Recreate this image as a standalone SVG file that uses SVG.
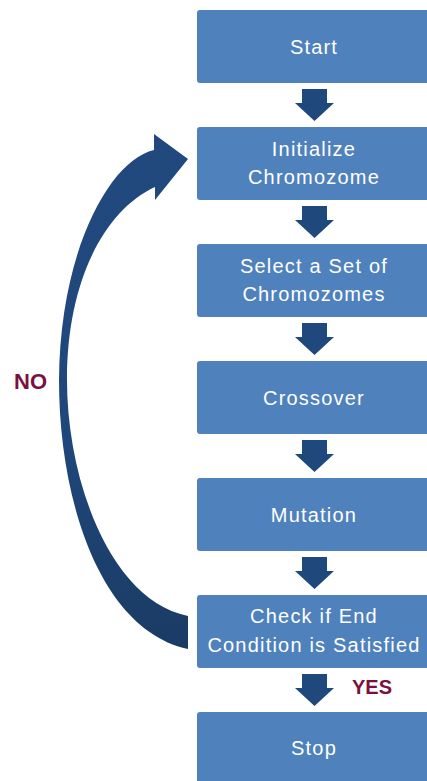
<svg xmlns="http://www.w3.org/2000/svg" width="427" height="781" viewBox="0 0 427 781">
<style>
.box{fill:#4F81BD;}
.t{font-family:"Liberation Sans",Arial,sans-serif;font-size:20px;fill:#FFFFFF;text-anchor:middle;letter-spacing:1.2px;}
.lbl{font-family:"Liberation Sans",Arial,sans-serif;font-weight:bold;fill:#7B1040;}
.arr{fill:#1F497D;}
</style>
<defs>
<linearGradient id="g" x1="0" y1="0" x2="0" y2="1">
<stop offset="0" stop-color="#21497E"/>
<stop offset="0.6" stop-color="#1F477B"/>
<stop offset="1" stop-color="#1A3B64"/>
</linearGradient>
<path id="down" d="M0,0 H25 V14 H32 L12.5,32 L-7,14 H0 Z"/>
</defs>
<rect width="427" height="781" fill="#FFFFFF"/>
<g id="connectors">
<use href="#down" class="arr" x="302" y="89"/>
<use href="#down" class="arr" x="302" y="206"/>
<use href="#down" class="arr" x="302" y="323"/>
<use href="#down" class="arr" x="302" y="440"/>
<use href="#down" class="arr" x="302" y="557"/>
<use href="#down" class="arr" x="302" y="674"/>
<path fill="url(#g)" d="M154,150 C110,160 60,250 59,380 C59,500 100,630 188,649 L188,616 C110,600 67,480 67,380 C67,280 105,210 155,187 L155,200 L188,159 L154,134 Z"/>
</g>
<g id="start"><rect class="box" x="197" y="10" width="235" height="73" rx="3"/><text class="t" x="314" y="54">Start</text></g>
<g id="init"><rect class="box" x="197" y="127" width="235" height="73" rx="3"/><text class="t" x="314" y="156">Initialize</text><text class="t" x="314" y="184">Chromozome</text></g>
<g id="select"><rect class="box" x="197" y="244" width="235" height="73" rx="3"/><text class="t" x="314" y="273">Select a Set of</text><text class="t" x="314" y="301">Chromozomes</text></g>
<g id="crossover"><rect class="box" x="197" y="361" width="235" height="73" rx="3"/><text class="t" x="314" y="405">Crossover</text></g>
<g id="mutation"><rect class="box" x="197" y="478" width="235" height="73" rx="3"/><text class="t" x="314" y="522">Mutation</text></g>
<g id="check"><rect class="box" x="197" y="595" width="235" height="73" rx="3"/><text class="t" x="314" y="623">Check if End</text><text class="t" x="314" y="652">Condition is Satisfied</text></g>
<g id="stop"><rect class="box" x="197" y="712" width="235" height="73" rx="3"/><text class="t" x="314" y="755">Stop</text></g>
<g id="labels">
<text class="lbl" x="14" y="389" font-size="22">NO</text>
<text class="lbl" x="352" y="694" font-size="20">YES</text>
</g>
</svg>
